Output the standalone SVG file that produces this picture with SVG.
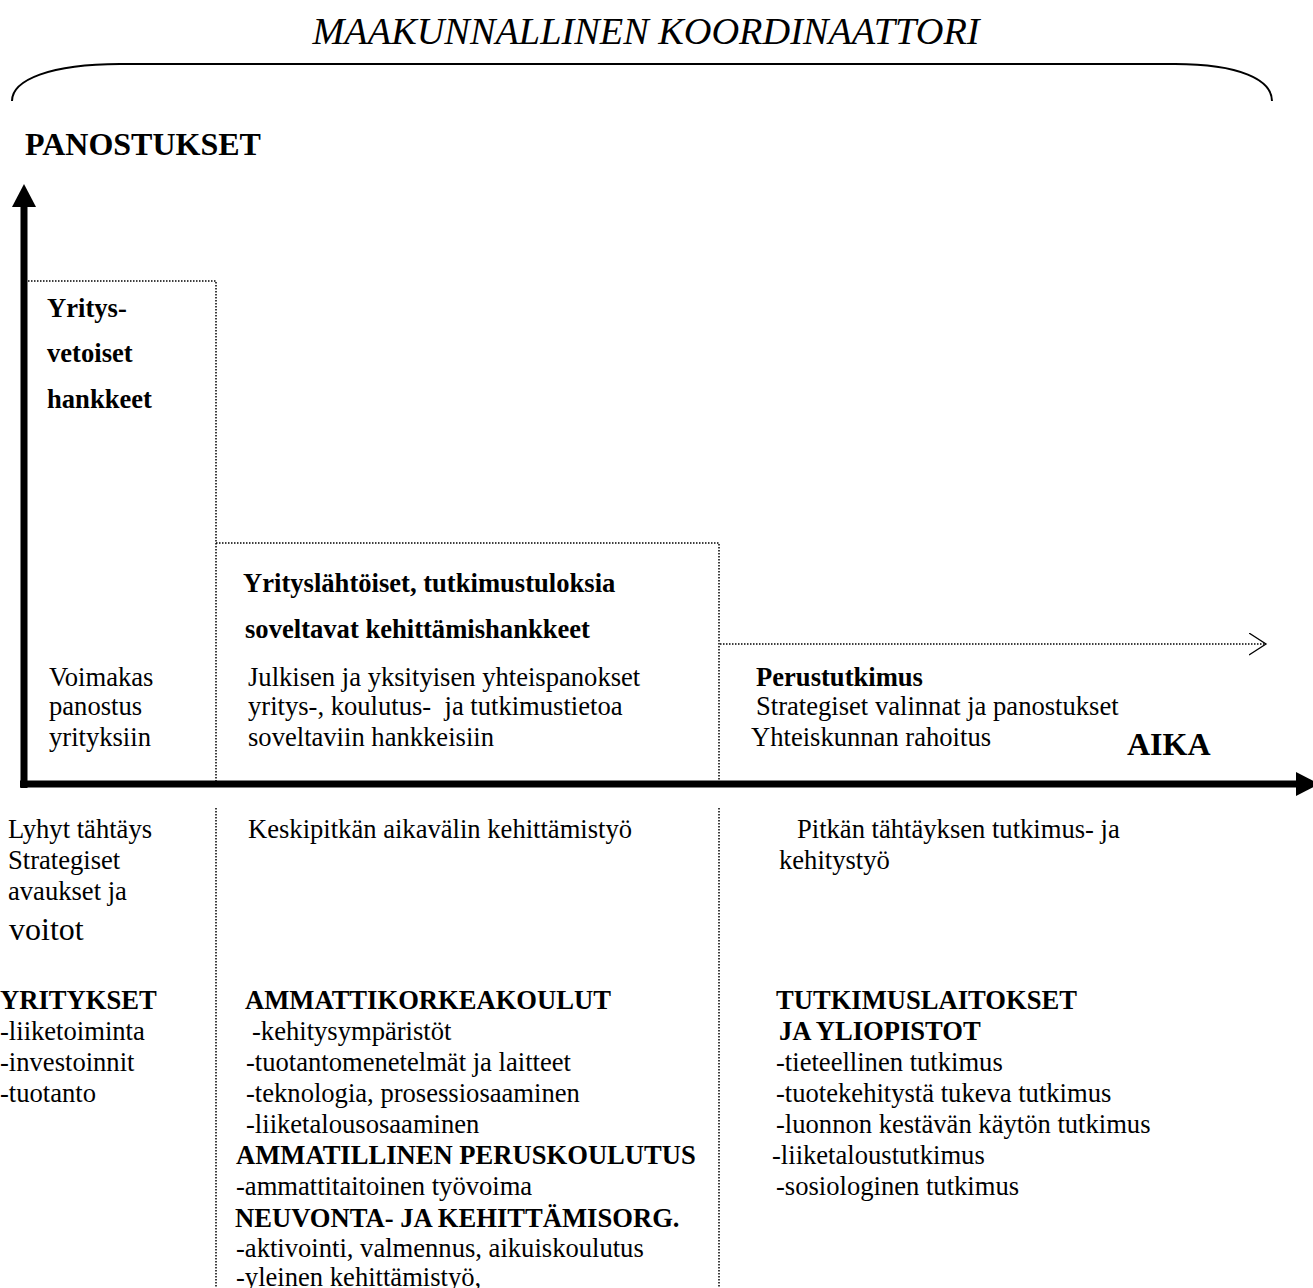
<svg xmlns="http://www.w3.org/2000/svg" width="1313" height="1288" viewBox="0 0 1313 1288">
<style>
text{font-family:"Liberation Serif","Times New Roman",serif;fill:#000;font-size:26.6px}
.b{font-weight:bold}
.big{font-size:32px}
.dot{fill:none;stroke:#000;stroke-width:1.5;stroke-dasharray:1.5 1.5}
.axis{stroke:#000;stroke-width:7;fill:none}
</style>
<defs>
<marker id="head" markerUnits="userSpaceOnUse" markerWidth="24" markerHeight="24" refX="0" refY="12" orient="auto">
<path d="M0,0 L23,12 L0,24 Z" fill="#000"/>
</marker>
<marker id="chev" markerUnits="userSpaceOnUse" markerWidth="20" markerHeight="24" refX="17" refY="11" orient="auto">
<path d="M0,0 L17,11 L0,22" fill="none" stroke="#000" stroke-width="1.3"/>
</marker>
</defs>
<rect width="1313" height="1288" fill="#fff"/>

<g id="title">
<text x="646" y="44" text-anchor="middle" font-style="italic" style="font-size:38.3px">MAAKUNNALLINEN KOORDINAATTORI</text>
<path d="M12,101 C12,80 50,64 120,64 L1175,64 C1240,64 1272,80 1272,101" fill="none" stroke="#000" stroke-width="2"/>
</g>

<g id="y-label"><text class="b big" x="25" y="155">PANOSTUKSET</text></g>

<g id="connectors">
<line class="axis" x1="24" y1="788" x2="24" y2="207" marker-end="url(#head)"/>
<line class="axis" x1="20" y1="784" x2="1296" y2="784" marker-end="url(#head)"/>
<line class="dot" x1="720" y1="644" x2="1266" y2="644" marker-end="url(#chev)"/>
<line class="dot" x1="216" y1="808" x2="216" y2="1288"/>
<line class="dot" x1="719" y1="808" x2="719" y2="1288"/>
</g>

<g id="box1">
<path class="dot" d="M28,281 H216 V781"/>
<text class="b" x="47" y="317">Yritys-</text>
<text class="b" x="47" y="362">vetoiset</text>
<text class="b" x="47" y="408">hankkeet</text>
<text x="49" y="686">Voimakas</text>
<text x="49" y="715">panostus</text>
<text x="49" y="746">yrityksiin</text>
</g>

<g id="box2">
<path class="dot" d="M216,543 H719 V781"/>
<text class="b" x="243" y="592">Yrityslähtöiset, tutkimustuloksia</text>
<text class="b" x="245" y="638">soveltavat kehittämishankkeet</text>
<text x="248" y="686">Julkisen ja yksityisen yhteispanokset</text>
<text x="248" y="715" xml:space="preserve">yritys-, koulutus-  ja tutkimustietoa</text>
<text x="248" y="746">soveltaviin hankkeisiin</text>
</g>

<g id="basic-research">
<text class="b" x="756" y="686">Perustutkimus</text>
<text x="756" y="715">Strategiset valinnat ja panostukset</text>
<text x="751" y="746">Yhteiskunnan rahoitus</text>
<text class="b big" x="1127" y="755">AIKA</text>
</g>

<g id="short-term">
<text x="8" y="838">Lyhyt tähtäys</text>
<text x="8" y="869">Strategiset</text>
<text x="8" y="900">avaukset ja</text>
<text class="big" x="9" y="940">voitot</text>
<text class="b" x="0" y="1009">YRITYKSET</text>
<text x="0" y="1040">-liiketoiminta</text>
<text x="0" y="1071">-investoinnit</text>
<text x="0" y="1102">-tuotanto</text>
</g>

<g id="mid-term">
<text x="248" y="838">Keskipitkän aikavälin kehittämistyö</text>
<text class="b" x="245" y="1009">AMMATTIKORKEAKOULUT</text>
<text x="252" y="1040">-kehitysympäristöt</text>
<text x="246" y="1071">-tuotantomenetelmät ja laitteet</text>
<text x="246" y="1102">-teknologia, prosessiosaaminen</text>
<text x="246" y="1133">-liiketalousosaaminen</text>
<text class="b" x="236" y="1164">AMMATILLINEN PERUSKOULUTUS</text>
<text x="236" y="1195">-ammattitaitoinen työvoima</text>
<text class="b" x="235" y="1227">NEUVONTA- JA KEHITTÄMISORG.</text>
<text x="236" y="1257">-aktivointi, valmennus, aikuiskoulutus</text>
<text x="236" y="1286">-yleinen kehittämistyö,</text>
</g>

<g id="long-term">
<text x="797" y="838">Pitkän tähtäyksen tutkimus- ja</text>
<text x="779" y="869">kehitystyö</text>
<text class="b" x="776" y="1009">TUTKIMUSLAITOKSET</text>
<text class="b" x="779" y="1040">JA YLIOPISTOT</text>
<text x="776" y="1071">-tieteellinen tutkimus</text>
<text x="776" y="1102">-tuotekehitystä tukeva tutkimus</text>
<text x="776" y="1133">-luonnon kestävän käytön tutkimus</text>
<text x="772" y="1164">-liiketaloustutkimus</text>
<text x="776" y="1195">-sosiologinen tutkimus</text>
</g>
</svg>
